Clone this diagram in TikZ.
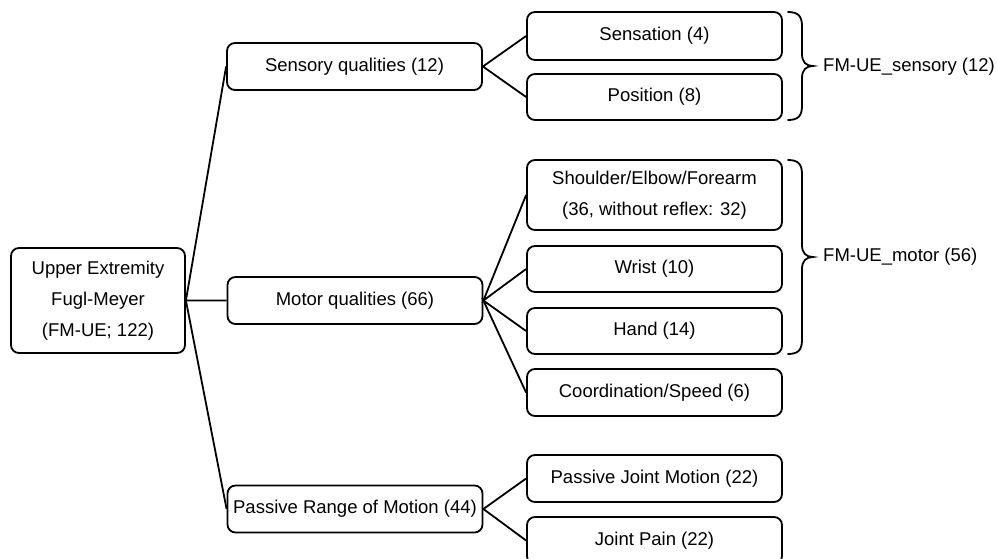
\documentclass[tikz,border=0pt]{standalone}
\usepackage{fontspec}
\setmainfont{Liberation Sans}
\begin{document}
\begin{tikzpicture}[x=1pt,y=-1pt,
  box/.style={draw=black,line width=1.8pt,rounded corners=8pt,inner sep=0pt,
    minimum width=255pt,minimum height=47pt,align=center,
    font=\fontsize{18.5}{31}\selectfont},
  link/.style={draw=black,line width=1.8pt},
  brc/.style={draw=black,line width=1.8pt,line cap=round},
  lbl/.style={anchor=west,inner sep=0pt,font=\fontsize{18.5}{31}\selectfont}]
\useasboundingbox (0,0) rectangle (997,558);
\clip (0,0) rectangle (997,558);
% level 0
\node[box,minimum width=174pt,minimum height=105pt] (root) at (98,300.5)
  {Upper Extremity\\Fugl-Meyer\\(FM-UE; 122)};
% level 1
\node[box] (sens) at (354.5,66.5) {Sensory qualities (12)};
\node[box] (motor) at (355,300.5) {Motor qualities (66)};
\node[box] (prom) at (355,509) {Passive Range of Motion (44)};
% level 2
\node[box,minimum height=48pt] (sensation) at (654.5,36) {Sensation (4)};
\node[box,minimum height=46pt] (position) at (654.5,97) {Position (8)};
\node[box,minimum height=70pt] (shoulder) at (654.5,195) {Shoulder/Elbow/Forearm\\(36, without reflex: 32)};
\node[box,minimum height=46pt] (wrist) at (654.5,269) {Wrist (10)};
\node[box,minimum height=46pt] (hand) at (654.5,331) {Hand (14)};
\node[box] (coord) at (654.5,392.5) {Coordination/Speed (6)};
\node[box] (pjm) at (654.5,478.5) {Passive Joint Motion (22)};
\node[box] (jp) at (654.5,540.5) {Joint Pain (22)};
% connectors
\draw[link] (sens.west) -- (root.east) -- (motor.west);
\draw[link] (root.east) -- (prom.west);
\draw[link] (sensation.west) -- (sens.east) -- (position.west);
\draw[link] (shoulder.west) -- (motor.east) -- (wrist.west);
\draw[link] (hand.west) -- (motor.east) -- (coord.west);
\draw[link] (pjm.west) -- (prom.east) -- (jp.west);
% braces
\draw[brc] (788,12) .. controls (798,12) and (802,16) .. (802,26)
  -- (802,54) .. controls (802,62) and (806,66) .. (813,66)
  .. controls (806,66) and (802,70) .. (802,78)
  -- (802,106) .. controls (802,116) and (798,120) .. (788,120);
\draw[brc] (788,160) .. controls (798,160) and (802,164) .. (802,174)
  -- (802,245) .. controls (802,253) and (806,257) .. (813,257)
  .. controls (806,257) and (802,261) .. (802,269)
  -- (802,340) .. controls (802,350) and (798,354) .. (788,354);
\node[lbl] (lsens) at (823,67) {FM-UE\_sensory (12)};
\node[lbl] (lmotor) at (823,257) {FM-UE\_motor (56)};
\end{tikzpicture}
\end{document}
